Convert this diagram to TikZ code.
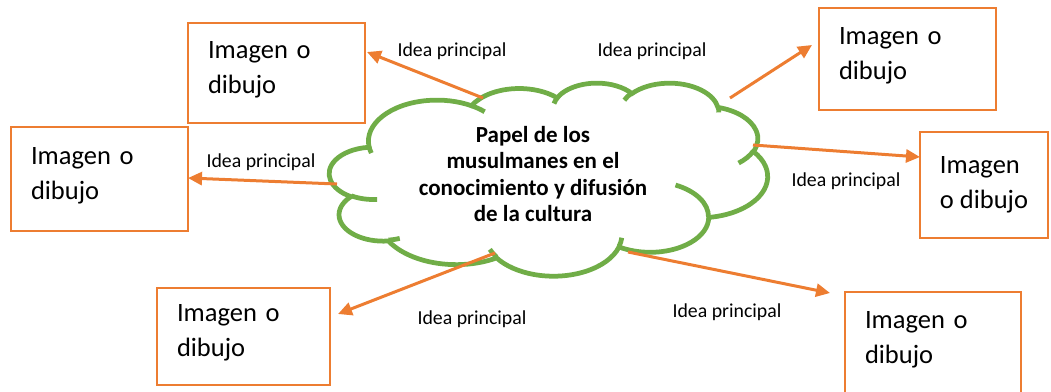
\documentclass[tikz,border=0pt]{standalone}
\usepackage{fontspec}
\setmainfont{Carlito}
\usetikzlibrary{arrows.meta}
\definecolor{boxorange}{HTML}{ED7D31}
\definecolor{cloudgreen}{HTML}{70AD47}
\makeatletter
\pgfmathdeclarefunction{cang}{3}{%
  \begingroup
    \pgfmathparse{atan2((#2)*sin(#1),(#3)*cos(#1))-(#1)}%
    \edef\cang@d{\pgfmathresult}%
    \pgfmathparse{(#1)+(\cang@d)-360*round((\cang@d)/360)}%
    \pgfmath@smuggleone\pgfmathresult
  \endgroup}
\makeatother
\tikzset{imgbox/.style = {draw = boxorange, line width = 2.5pt,
                          align = left, inner xsep = 20pt,
                          font = \fontsize{26.5}{35}\selectfont},
         idea/.style = {inner sep = 0pt, font = \fontsize{19.8}{23}\selectfont},
         topic/.style = {align = center, inner sep = 0pt,
                         font = \fontsize{23}{26.3}\selectfont\bfseries},
         ideaarrow/.style = {draw = boxorange, line width = 3pt,
                             -{Triangle[length = 14pt, width = 13pt]}},
         cloudline/.style = {draw = cloudgreen, line width = 4.75pt},
         cloudarc/.style n args = {4}{insert path = {arc[x radius = #1, y radius = #2,
                          start angle = {cang(#3,#1,#2)}, end angle = {cang(#3+#4,#1,#2)}]}}}

\begin{document}
\begin{tikzpicture}[x = 1pt, y = -1pt]
        \useasboundingbox (0,0) rectangle (1051,391);

        \node[imgbox, minimum height = 100pt, text width = 137pt, text depth = 47pt] (b1) at (276.5,73)  {Imagen o\\dibujo};
        \node[imgbox, minimum height = 104pt, text width = 137pt, text depth = 47pt] (b2) at (99.5,179)  {Imagen o\\dibujo};
        \node[imgbox, minimum height = 102pt, text width = 137pt, text depth = 47pt] (b3) at (907.5,59)  {Imagen o\\dibujo};
        \node[imgbox, minimum height = 106pt, minimum width = 128pt,
              inner xsep = 0pt]                                                      (b4) at (984,185)   {Imagen\\o dibujo};
        \node[imgbox, minimum height = 97pt, text width = 133pt, text depth = 47pt]  (b5) at (243.5,336.5) {Imagen o\\dibujo};
        \node[imgbox, minimum height = 103pt, text width = 136pt, text depth = 47pt] (b6) at (933,343.5) {Imagen o\\dibujo};

        % nube (forma cloud de Office, 432 x 432)
        \begin{scope}[shift = {(329.5,82.5)}, x = 1.01389pt, y = -0.44676pt]
            \draw[cloudline, fill = white] (39.00,143.70)
                [cloudarc = {67.53}{91.90}{-190.4875}{123.7805}]
                [cloudarc = {53.33}{72.67}{-144.1024}{89.9452}]
                [cloudarc = {43.65}{59.45}{-145.8079}{99.7230}]
                [cloudarc = {48.57}{65.95}{-130.9861}{117.2417}]
                [cloudarc = {53.33}{72.73}{-78.7089}{109.0269}]
                [cloudarc = {67.75}{92.20}{-46.2673}{130.2690}]
                [cloudarc = {57.85}{78.67}{0.6250}{114.0333}]
                [cloudarc = {67.52}{92.15}{22.4516}{115.1726}]
                [cloudarc = {77.20}{105.43}{66.2426}{75.7110}]
                [cloudarc = {43.60}{59.18}{-274.9421}{146.7356}]
                [cloudarc = {43.45}{59.45}{-246.8285}{152.5189}] -- cycle;
            \draw[cloudline]
                (46.93,261.77)  [cloudarc = {43.45}{59.45}{86.7420}{26.4295}]
                (69.28,348.99)  [cloudarc = {43.60}{59.18}{73.6105}{11.4475}]
                (164.78,390.90) [cloudarc = {67.52}{92.15}{137.6242}{14.0811}]
                (288.27,347.51) [cloudarc = {67.52}{92.15}{6.4533}{15.9984}]
                (341.29,229.54) [cloudarc = {57.85}{78.67}{-70.2924}{70.9174}]
                (417.98,153.54) [cloudarc = {53.33}{72.73}{30.3180}{27.7515}]
                (383.24,54.26)  [cloudarc = {48.57}{65.95}{-13.7443}{14.8589}]
                (290.78,39.52)  [cloudarc = {48.57}{65.95}{-149.1815}{18.1954}]
                (221.41,47.20)  [cloudarc = {43.65}{59.45}{-163.4943}{17.6864}]
                (140.00,51.92)  [cloudarc = {67.53}{91.90}{-66.7070}{12.3194}]
                (41.27,157.89)  [cloudarc = {67.53}{91.90}{157.6544}{11.8582}];
        \end{scope}

        \node[topic] (tema) at (533,174) {Papel de los\\musulmanes en el\\conocimiento y difusión\\de la cultura};

        \coordinate (c1) at (483,98);   \coordinate (t1) at (367,52);
        \coordinate (c2) at (730,98);   \coordinate (t2) at (812,45);
        \coordinate (c3) at (337,184);  \coordinate (t3) at (188,178);
        \coordinate (c4) at (753,145);  \coordinate (t4) at (920,157);
        \coordinate (c5) at (495,253);  \coordinate (t5) at (338,314);
        \coordinate (c6) at (628,252);  \coordinate (t6) at (830,293);

        \draw[ideaarrow]    (c1) -- (t1);
        \draw[ideaarrow]    (c2) -- (t2);
        \draw[ideaarrow]    (c3) -- (t3);
        \draw[ideaarrow]    (c4) -- (t4);
        \draw[ideaarrow]    (c5) -- (t5);
        \draw[ideaarrow]    (c6) -- (t6);

        \node[idea] (i1) at (452,51)  {Idea principal};
        \node[idea] (i2) at (652,51)  {Idea principal};
        \node[idea] (i3) at (261,162) {Idea principal};
        \node[idea] (i4) at (846,181) {Idea principal};
        \node[idea] (i5) at (472,319) {Idea principal};
        \node[idea] (i6) at (727,312) {Idea principal};
\end{tikzpicture}
\end{document}
